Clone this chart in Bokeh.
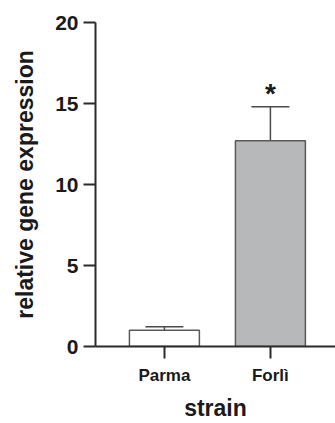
from bokeh.plotting import figure
from bokeh.models import FixedTicker, Range1d, ColumnDataSource, Whisker, TeeHead
from bokeh.core.properties import value
from bokeh.embed import file_html
from bokeh.resources import INLINE

strains = ["Parma", "Forlì"]
positions = [1, 2]
means = [1.0, 12.7]
err_upper = [1.22, 14.8]
bar_colors = ["#ffffff", "#b6b8ba"]
sig_text = ["*"]
sig_pos = [2]
sig_y = [16.0]
y_ticks = [0, 5, 10, 15, 20]

FONT = "Liberation Sans"
AX = "#2b2b2b"

p = figure(width=335, height=423, output_backend="svg", toolbar_location=None,
           x_range=Range1d(0.35, 2.614), y_range=Range1d(0, 20),
           min_border_left=95, min_border_right=0, min_border_top=22,
           min_border_bottom=77)
p.outline_line_color = None
p.xgrid.visible = False
p.ygrid.visible = False

src = ColumnDataSource(dict(x=positions, top=means, upper=err_upper, color=bar_colors))
p.vbar(x="x", top="top", width=0.66, source=src, fill_color="color",
       line_color="#5a5a5a", line_width=1.5)
p.add_layout(Whisker(base="x", lower="top", upper="upper", source=src,
                     line_color="#4a4a4a", line_width=1.5,
                     upper_head=TeeHead(size=38, line_color="#4a4a4a", line_width=1.5),
                     lower_head=None))

p.text(x=sig_pos, y=sig_y, text=sig_text, text_font=value(FONT),
       text_font_style="bold", text_font_size="28px", text_align="center",
       text_baseline="alphabetic", y_offset=6, text_color="#1a1a1a")

for ax in (p.xaxis, p.yaxis):
    ax.axis_line_color = AX
    ax.axis_line_width = 2
    ax.major_tick_line_color = AX
    ax.major_tick_line_width = 2
    ax.major_tick_out = 12
    ax.major_tick_in = 0
    ax.minor_tick_line_color = None
    ax.major_label_text_font = FONT
    ax.major_label_text_font_style = "bold"
    ax.major_label_text_color = "#1a1a1a"
    ax.axis_label_text_font = FONT
    ax.axis_label_text_font_style = "bold"
    ax.axis_label_text_color = "#1a1a1a"

p.yaxis.ticker = FixedTicker(ticks=y_ticks)
p.yaxis.major_label_text_font_size = "21px"
p.yaxis.major_label_standoff = 5
p.yaxis.axis_label = "relative gene expression"
p.yaxis.axis_label_text_font_size = "23px"
p.yaxis.axis_label_standoff = 14

p.xaxis.ticker = FixedTicker(ticks=positions)
p.xaxis.major_label_overrides = {k: v for k, v in zip(positions, strains)}
p.xaxis.major_label_text_font_size = "17px"
p.xaxis.major_label_standoff = 7
p.xaxis.axis_label = "strain"
p.xaxis.axis_label_text_font_size = "23px"
p.xaxis.axis_label_standoff = 7

open("out.html", "w").write(file_html(p, INLINE))
